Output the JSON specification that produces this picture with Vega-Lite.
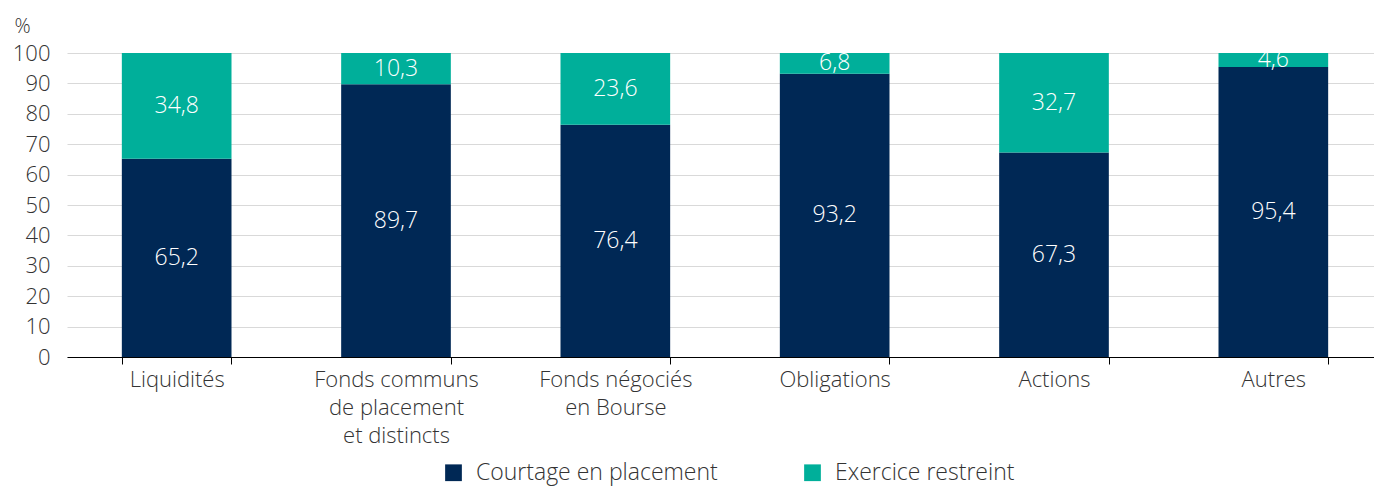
{
  "$schema": "https://vega.github.io/schema/vega-lite/v6.json",
  "width": 1316,
  "height": 304,
  "autosize": {"type": "none"},
  "padding": {"left": 67, "top": 53, "right": 0, "bottom": 130},
  "background": "white",
  "config": {
    "font": "Open Sans",
    "view": {"stroke": null},
    "axis": {"labelFont": "Open Sans", "labelFontWeight": 300, "labelColor": "#333333", "labelFontSize": 22, "titleFont": "Open Sans"}
  },
  "data": {
    "values": [
      {"categorie": "Liquidités", "serie": "Courtage en placement", "valeur": 65.2},
      {"categorie": "Liquidités", "serie": "Exercice restreint", "valeur": 34.8},
      {"categorie": "Fonds communs de placement et distincts", "serie": "Courtage en placement", "valeur": 89.7},
      {"categorie": "Fonds communs de placement et distincts", "serie": "Exercice restreint", "valeur": 10.3},
      {"categorie": "Fonds négociés en Bourse", "serie": "Courtage en placement", "valeur": 76.4},
      {"categorie": "Fonds négociés en Bourse", "serie": "Exercice restreint", "valeur": 23.6},
      {"categorie": "Obligations", "serie": "Courtage en placement", "valeur": 93.2},
      {"categorie": "Obligations", "serie": "Exercice restreint", "valeur": 6.8},
      {"categorie": "Actions", "serie": "Courtage en placement", "valeur": 67.3},
      {"categorie": "Actions", "serie": "Exercice restreint", "valeur": 32.7},
      {"categorie": "Autres", "serie": "Courtage en placement", "valeur": 95.4},
      {"categorie": "Autres", "serie": "Exercice restreint", "valeur": 4.6}
    ]
  },
  "transform": [
    {"stack": "valeur", "groupby": ["categorie"], "sort": [{"field": "serie", "order": "ascending"}], "as": ["v0", "v1"]},
    {"calculate": "(datum.v0 + datum.v1) / 2", "as": "vmid"},
    {"calculate": "replace(format(datum.valeur, '.1f'), '.', ',')", "as": "lab"}
  ],
  "encoding": {
    "x": {
      "field": "categorie",
      "type": "nominal",
      "sort": null,
      "scale": {"paddingInner": 0.5, "paddingOuter": 0.25},
      "axis": {
        "title": null,
        "labelAngle": 0,
        "domainColor": "#000000",
        "domainWidth": 1,
        "tickColor": "#000000",
        "tickSize": 7,
        "tickBand": "extent",
        "labelPadding": 5,
        "labelLineHeight": 28,
        "labelBaseline": "top",
        "labelLimit": 0,
        "labelExpr": "datum.label == 'Fonds communs de placement et distincts' ? ['Fonds communs', 'de placement', 'et distincts'] : datum.label == 'Fonds négociés en Bourse' ? ['Fonds négociés', 'en Bourse'] : datum.label"
      }
    }
  },
  "layer": [
    {
      "mark": {"type": "bar"},
      "encoding": {
        "y": {
          "field": "v1",
          "type": "quantitative",
          "scale": {"domain": [0, 100]},
          "axis": {
            "title": "%",
            "titleAngle": 0,
            "titleX": -53,
            "titleY": -17,
            "titleAlign": "left",
            "titleBaseline": "bottom",
            "titleFontSize": 20,
            "titleFontWeight": 300,
            "titleColor": "#333333",
            "values": [0, 10, 20, 30, 40, 50, 60, 70, 80, 90, 100],
            "tickCount": 20,
            "labelOverlap": false,
            "domain": false,
            "ticks": false,
            "labelPadding": 17,
            "grid": true,
            "gridColor": "#d9d9d9",
            "gridWidth": 1
          }
        },
        "y2": {"field": "v0"},
        "color": {
          "field": "serie",
          "type": "nominal",
          "scale": {"domain": ["Courtage en placement", "Exercice restreint"], "range": ["#002855", "#00af9a"]},
          "legend": {
            "title": null,
            "orient": "none",
            "direction": "horizontal",
            "legendX": 375,
            "legendY": 408,
            "symbolType": "square",
            "symbolSize": 280,
            "symbolStrokeWidth": 0,
            "symbolOpacity": 1,
            "labelFont": "Open Sans",
            "labelFontWeight": 300,
            "labelFontSize": 23,
            "labelColor": "#333333",
            "labelOffset": 11,
            "labelLimit": 0,
            "columnPadding": 83
          }
        }
      }
    },
    {
      "mark": {"type": "text", "color": "white", "fontSize": 23, "fontWeight": 300, "baseline": "middle", "align": "center"},
      "encoding": {
        "y": {
          "field": "vmid",
          "type": "quantitative",
          "axis": {
            "title": "%",
            "titleAngle": 0,
            "titleX": -53,
            "titleY": -17,
            "titleAlign": "left",
            "titleBaseline": "bottom",
            "titleFontSize": 20,
            "titleFontWeight": 300,
            "titleColor": "#333333",
            "values": [0, 10, 20, 30, 40, 50, 60, 70, 80, 90, 100],
            "tickCount": 20,
            "labelOverlap": false,
            "domain": false,
            "ticks": false,
            "labelPadding": 17,
            "grid": true,
            "gridColor": "#d9d9d9",
            "gridWidth": 1
          }
        },
        "text": {"field": "lab"}
      }
    }
  ]
}
